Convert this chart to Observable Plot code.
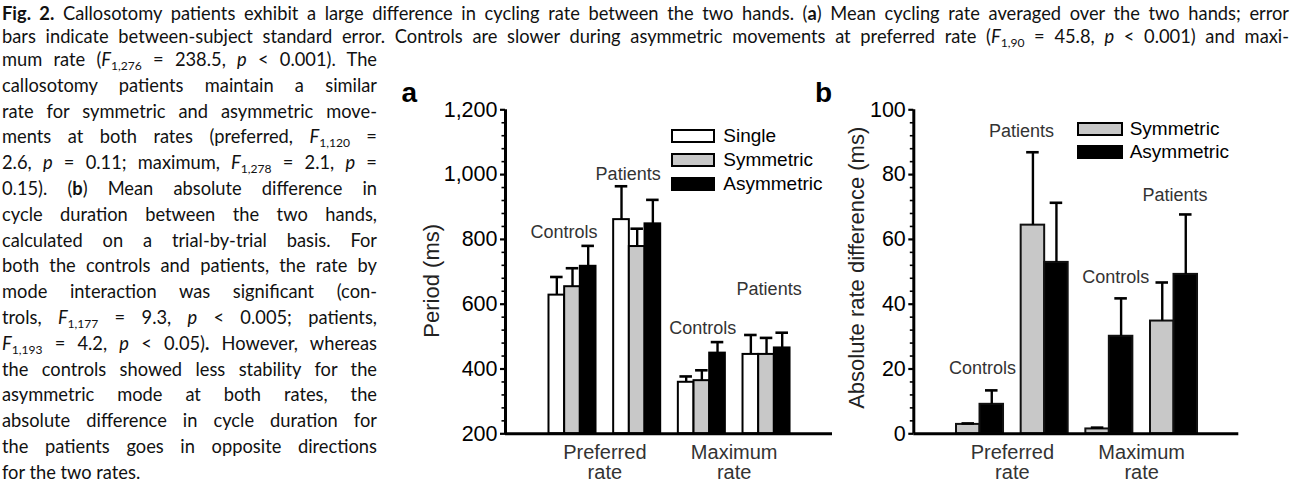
<!DOCTYPE html>
<html>
<head>
<meta charset="utf-8">
<script src="https://cdn.jsdelivr.net/npm/d3@7"></script>
<script src="https://cdn.jsdelivr.net/npm/@observablehq/plot@0.6"></script>
<style>
  html, body { margin: 0; padding: 0; background: #fff; }
  #fig { position: relative; width: 1292px; height: 483px; overflow: hidden; background: #fff; }
  .cap { position: absolute; left: 2px; height: 22px; line-height: 22px; white-space: nowrap;
         font-family: Lato, "Open Sans", sans-serif; font-size: 18.3px; color: #111; }
  .cap span.inner { display: inline-block; }
  .cap sub { font-size: 66%; vertical-align: -0.35em; line-height: 0; }
  .chart { position: absolute; }
  .panel { position: absolute; font-family: "Liberation Sans", Arial, sans-serif; font-weight: bold;
           font-size: 28px; line-height: 28px; color: #000; }
  .legend { position: absolute; font-family: "Liberation Sans", Arial, sans-serif; font-size: 19px; color: #000; }
  .legend .row { position: absolute; left: 0; display: flex; align-items: center; white-space: nowrap; }
  .legend .sw { box-sizing: border-box; border: 2px solid #000; }
</style>
</head>
<body>
<div id="fig"></div>
<script>
// ---------------- data ----------------
const cells = ["Preferred/Controls", "Preferred/Patients", "Maximum/Controls", "Maximum/Patients"];
const cellGroups = ["Controls", "Patients", "Controls", "Patients"];
const cellRates = ["Preferred", "Preferred", "Maximum", "Maximum"];
const rates = ["Preferred", "Maximum"];
const rateTickLabels = ["Preferred\nrate", "Maximum\nrate"];
const modesA = ["Single", "Symmetric", "Asymmetric"];
const modesB = ["Symmetric", "Asymmetric"];

// (a) period (ms), order of cells above
const periodSingle     = [628, 861, 359, 445];
const periodSymmetric  = [654, 778, 364, 445];
const periodAsymmetric = [717, 848, 449, 465];
const periodSingleSE     = [56, 103, 18, 60];
const periodSymmetricSE  = [57, 55, 32, 51];
const periodAsymmetricSE = [63, 74, 34, 47];
const periodTicks = [200, 400, 600, 800, 1000, 1200];

// (b) absolute rate difference (ms)
const diffSymmetric  = [2.9, 64.4, 1.5, 34.8];
const diffAsymmetric = [9.1, 52.9, 30.1, 49.2];
const diffSymmetricSE  = [0.3, 22.5, 0.4, 11.9];
const diffAsymmetricSE = [4.3, 18.4, 11.7, 18.5];
const diffTicks = [0, 20, 40, 60, 80, 100];

// group-label anchors (value units, and shift in cell units)
const labelValueA = [823, 1000, 527, 647];
const labelShiftA = [-0.13, -0.14, 0.015, 0.04];
const labelValueB = [20.3, 93.3, 48.2, 73.5];
const labelShiftB = [0.04, -0.36, 0.10, 0.015];

// ---------------- styles ----------------
const modeFill = { Single: "#ffffff", Symmetric: "#c8c8c8", Asymmetric: "#000000" };
const FONT = "'Liberation Sans', Arial, Helvetica, sans-serif";
const groupWidth = 0.727;   // fraction of a cell step covered by a group of bars
const capHalf = 0.097;      // error-bar cap half-width in cell units

function buildBars(modes, values, ses) {
  const out = [];
  const w = groupWidth / modes.length;
  cells.forEach((c, i) => modes.forEach((m, j) => {
    const x1 = i - groupWidth / 2 + j * w;
    out.push({ cell: c, mode: m, value: values[m][i], se: ses[m][i], x1, x2: x1 + w, xc: x1 + w / 2 });
  }));
  return out;
}

const rateCenters = rates.map((r, k) => ({
  label: rateTickLabels[k],
  xc: d3.mean(cells.map((c, i) => i).filter(i => cellRates[i] === r))
}));

function makeChart({ bars, domainX, domainY, ticks, minorStep, title, titleDx, titleDy,
                     labelValue, labelShift, width, height, marginLeft, marginRight, marginTop, marginBottom, barStroke }) {
  const [x0, x1] = domainX;
  const [y0, y1] = domainY;
  const minor = d3.range(y0, y1 + 1e-9, minorStep).filter(v => !ticks.some(t => Math.abs(t - v) < 1e-9));
  const labels = cells.map((c, i) => ({ text: cellGroups[i], x: i + labelShift[i], y: labelValue[i] }));
  return Plot.plot({
    width, height, marginLeft, marginRight, marginTop, marginBottom,
    x: { type: "linear", domain: domainX, axis: null },
    y: { type: "linear", domain: domainY, axis: null },
    style: { fontFamily: FONT, background: "transparent", overflow: "visible", color: "#000" },
    marks: [
      Plot.rect(bars, { x1: "x1", x2: "x2", y1: y0, y2: "value", fill: d => modeFill[d.mode], stroke: barStroke, strokeWidth: 2 }),
      Plot.ruleX(bars, { x: "xc", y1: "value", y2: d => d.value + d.se, stroke: "#000", strokeWidth: 2.4 }),
      Plot.ruleY(bars, { y: d => d.value + d.se, x1: d => d.xc - capHalf, x2: d => d.xc + capHalf, stroke: "#000", strokeWidth: 2.6 }),
      // axes
      Plot.ruleY(minor, { y: d => d, x1: x0, x2: x0, insetLeft: -3.5, stroke: "#000", strokeWidth: 1.6 }),
      Plot.ruleY(ticks, { y: d => d, x1: x0, x2: x0, insetLeft: -5, stroke: "#000", strokeWidth: 2.2 }),
      Plot.ruleX([x0], { y1: y0, y2: y1, stroke: "#000", strokeWidth: 3 }),
      Plot.ruleY([y0], { x1: x0, x2: x1, stroke: "#000", strokeWidth: 3 }),
      Plot.text(ticks, { x: x0, y: d => d, text: d => d3.format(",")(d), textAnchor: "end", dx: -8, fontSize: 21.5, fill: "#000" }),
      Plot.text([title], { frameAnchor: "left", textAnchor: "middle", rotate: -90, dx: titleDx, dy: titleDy, fontSize: 22, fill: "#222" }),
      Plot.text(rateCenters, { x: "xc", y: y0, text: "label", lineAnchor: "top", dy: 11, fontSize: 20, lineHeight: 1, fill: "#333" }),
      Plot.text(labels, { x: "x", y: "y", text: "text", fontSize: 18, fill: "#333" })
    ]
  });
}

const barsA = buildBars(modesA,
  { Single: periodSingle, Symmetric: periodSymmetric, Asymmetric: periodAsymmetric },
  { Single: periodSingleSE, Symmetric: periodSymmetricSE, Asymmetric: periodAsymmetricSE });
const barsB = buildBars(modesB,
  { Symmetric: diffSymmetric, Asymmetric: diffAsymmetric },
  { Symmetric: diffSymmetricSE, Asymmetric: diffAsymmetricSE });

const chartA = makeChart({
  bars: barsA, domainX: [-1.036, 4.02], domainY: [200, 1200], ticks: periodTicks, minorStep: 40,
  title: "Period (ms)", titleDx: -73.3, titleDy: 9, labelValue: labelValueA, labelShift: labelShiftA,
  width: 462, height: 423, marginLeft: 127, marginRight: 8, marginTop: 49.3, marginBottom: 49.7, barStroke: "#000"
});
const chartB = makeChart({
  bars: barsB, domainX: [-1.024, 4.002], domainY: [0, 100], ticks: diffTicks, minorStep: 4,
  title: "Absolute rate difference (ms)", titleDx: -57.3, titleDy: -4, labelValue: labelValueB, labelShift: labelShiftB,
  width: 452, height: 423, marginLeft: 73.3, marginRight: 53.7, marginTop: 49.3, marginBottom: 49.7, barStroke: "#111"
});

const fig = document.getElementById("fig");

function place(el, left, top) {
  const wrap = document.createElement("div");
  wrap.className = "chart";
  wrap.style.left = left + "px";
  wrap.style.top = top + "px";
  wrap.appendChild(el);
  fig.appendChild(wrap);
}
place(chartA, 378, 60);
place(chartB, 840, 60);

// panel letters
[["a", 401.5, 78.6], ["b", 815, 79]].forEach(([t, l, tp]) => {
  const d = document.createElement("div");
  d.className = "panel"; d.textContent = t;
  d.style.left = l + "px"; d.style.top = tp + "px";
  fig.appendChild(d);
});

// legends
function legend(modes, left, top, boxW, boxH, rowStep, textGap) {
  const lg = document.createElement("div");
  lg.className = "legend";
  lg.style.left = left + "px"; lg.style.top = top + "px";
  modes.forEach((m, i) => {
    const row = document.createElement("div");
    row.className = "row";
    row.style.top = (i * rowStep) + "px";
    row.style.height = boxH + "px";
    const sw = document.createElement("div");
    sw.className = "sw";
    sw.style.width = boxW + "px"; sw.style.height = boxH + "px";
    sw.style.background = modeFill[m];
    const tx = document.createElement("span");
    tx.textContent = m;
    tx.style.marginLeft = textGap + "px";
    row.appendChild(sw); row.appendChild(tx);
    lg.appendChild(row);
  });
  fig.appendChild(lg);
}
legend(modesA, 670.7, 129.3, 44.6, 13.4, 24, 8);
legend(modesB, 1077.3, 121.7, 45.4, 14.3, 23.4, 7);

// caption
const capLines = [
  '<b>Fig. 2.</b> Callosotomy patients exhibit a large difference in cycling rate between the two hands. (<b>a</b>) Mean cycling rate averaged over the two hands; error',
  'bars indicate between-subject standard error. Controls are slower during asymmetric movements at preferred rate (<i>F</i><sub>1,90</sub> = 45.8, <i>p</i> &lt; 0.001) and maxi-',
  'mum rate (<i>F</i><sub>1,276</sub> = 238.5, <i>p</i> &lt; 0.001). The',
  'callosotomy patients maintain a similar',
  'rate for symmetric and asymmetric move-',
  'ments at both rates (preferred, <i>F</i><sub>1,120</sub> =',
  '2.6, <i>p</i> = 0.11; maximum, <i>F</i><sub>1,278</sub> = 2.1, <i>p</i> =',
  '0.15). (<b>b</b>) Mean absolute difference in',
  'cycle duration between the two hands,',
  'calculated on a trial-by-trial basis. For',
  'both the controls and patients, the rate by',
  'mode interaction was significant (con-',
  'trols, <i>F</i><sub>1,177</sub> = 9.3, <i>p</i> &lt; 0.005; patients,',
  '<i>F</i><sub>1,193</sub> = 4.2, <i>p</i> &lt; 0.05)<b>.</b> However, whereas',
  'the controls showed less stability for the',
  'asymmetric mode at both rates, the',
  'absolute difference in cycle duration for',
  'the patients goes in opposite directions',
  'for the two rates.'
];
const capEls = [];
capLines.forEach((html, i) => {
  const d = document.createElement("div");
  d.className = "cap";
  const center = i < 2 ? 13 + i * 23 : 59 + (i - 2) * 25.8;
  d.style.top = (center - 11) + "px";
  const s = document.createElement("span");
  s.className = "inner";
  s.innerHTML = html;
  d.appendChild(s);
  fig.appendChild(d);
  capEls.push({ el: s, target: i < 2 ? 1287 : 375, justify: i < capLines.length - 1 });
});
function justifyAll() {
  capEls.forEach(({ el, target, justify }) => {
    if (!justify) return;
    el.style.wordSpacing = "0px";
    const w = el.getBoundingClientRect().width;
    const n = (el.textContent.match(/ /g) || []).length;
    if (n > 0) el.style.wordSpacing = ((target - w) / n) + "px";
  });
}
justifyAll();
if (document.fonts && document.fonts.ready) document.fonts.ready.then(justifyAll);
</script>
</body>
</html>
